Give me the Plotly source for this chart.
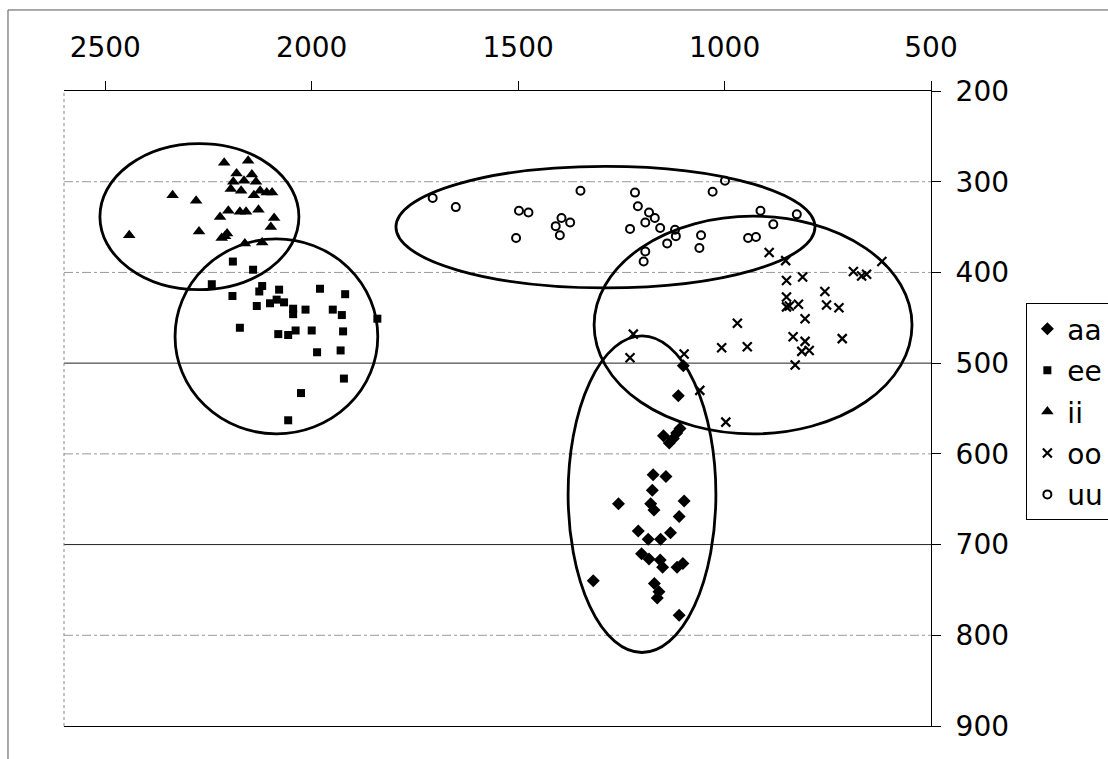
import plotly.graph_objects as go

# ---- data (F2 on x, F1 on y) ----
aa_x = [1100, 1112, 1108, 1116, 1124, 1148, 1134, 1173, 1142, 1175, 1257, 1179, 1171, 1098, 1110,
        1209, 1185, 1155, 1131, 1201, 1183, 1156, 1150, 1115, 1101, 1318, 1170, 1159, 1163, 1110]
aa_y = [503, 536, 572, 577, 583, 580, 588, 623, 625, 640, 655, 655, 662, 652, 669,
        685, 694, 694, 687, 710, 716, 717, 725, 725, 721, 740, 743, 752, 759, 778]

ee_x = [2191, 2142, 2242, 2192, 2120, 2127, 2079, 1980, 1919, 2133, 2101, 2085, 2067, 2045, 2045,
        2015, 1949, 1927, 1841, 2174, 2081, 2057, 2039, 2000, 1924, 1987, 1930, 1922, 2026, 2057]
ee_y = [388, 397, 413, 426, 415, 421, 419, 418, 424, 437, 434, 430, 433, 440, 446,
        441, 441, 447, 451, 461, 468, 469, 464, 464, 465, 488, 486, 517, 533, 563]

ii_x = [2212, 2154, 2182, 2145, 2164, 2190, 2135, 2196, 2171, 2125, 2140, 2109, 2096, 2337, 2280,
        2202, 2174, 2159, 2129, 2222, 2091, 2099, 2442, 2273, 2205, 2218, 2162, 2120, 2210]
ii_y = [279, 277, 291, 292, 299, 300, 300, 308, 310, 310, 315, 312, 312, 315, 321,
        332, 333, 333, 331, 339, 340, 350, 359, 355, 357, 362, 368, 367, 360]

oo_x = [892, 852, 619, 688, 668, 656, 850, 811, 757, 850, 850, 843, 821, 753, 723,
        805, 969, 1221, 834, 805, 1007, 945, 715, 813, 795, 1229, 1098, 829, 1060, 997]
oo_y = [378, 387, 388, 399, 404, 402, 409, 405, 421, 427, 438, 437, 435, 436, 439,
        451, 456, 468, 471, 476, 483, 482, 473, 487, 486, 494, 490, 502, 530, 565]

uu_x = [1707, 1651, 1498, 1475, 1505, 1395, 1374, 1409, 1399, 1349, 1217, 1210, 1183, 1169, 1192,
        1156, 1229, 1120, 1118, 1139, 1192, 1196, 1057, 1061, 1029, 999, 943, 924, 913, 882, 825]
uu_y = [318, 328, 332, 334, 362, 340, 345, 349, 359, 310, 312, 327, 334, 340, 345,
        351, 352, 353, 360, 368, 377, 388, 359, 373, 311, 299, 362, 361, 332, 347, 336]

series_names = ["aa", "ee", "ii", "oo", "uu"]

# ellipses around each vowel cluster (data units)
ell_x0 = [1379, 2331, 2513, 1316, 1796]
ell_x1 = [1021, 1840, 2031, 546, 781]
ell_y0 = [470, 363, 258, 338, 283]
ell_y1 = [819, 578, 419, 578, 417]

x_ticks = [2500, 2000, 1500, 1000, 500]
y_ticks = [200, 300, 400, 500, 600, 700, 800, 900]
solid_grid = [500, 700]

FONT = "DejaVu Sans"
xs = [aa_x, ee_x, ii_x, oo_x, uu_x]
ys = [aa_y, ee_y, ii_y, oo_y, uu_y]
markers = [
    dict(symbol="diamond", size=10, color="black"),
    dict(symbol="square", size=8, color="black"),
    dict(symbol="triangle-up", size=11, color="black"),
    dict(symbol="x-thin", size=9, color="black", line=dict(width=2.2, color="black")),
    dict(symbol="circle-open", size=8, color="black", line=dict(width=2, color="black")),
]

fig = go.Figure()
for i, name in enumerate(series_names):
    fig.add_trace(go.Scatter(x=xs[i], y=ys[i], mode="markers", name=name,
                             legendgroup=name, marker=markers[i]))

shapes = []
for v in y_ticks[1:-1]:
    if v in solid_grid:
        shapes.append(dict(type="line", xref="paper", yref="y", x0=0, x1=1, y0=v, y1=v,
                           line=dict(color="#222", width=1), layer="below"))
    else:
        shapes.append(dict(type="line", xref="paper", yref="y", x0=0, x1=1, y0=v, y1=v,
                           line=dict(color="#9a9a9a", width=1, dash="dashdot"), layer="below"))
for i in range(len(ell_x0)):
    shapes.append(dict(type="circle", xref="x", yref="y", x0=ell_x0[i], x1=ell_x1[i],
                       y0=ell_y0[i], y1=ell_y1[i], line=dict(color="black", width=2.8)))
# left edge of plot area
shapes.append(dict(type="line", xref="paper", yref="paper", x0=0, x1=0, y0=0, y1=1,
                   line=dict(color="#888", width=1, dash="dot")))
# chart area frame (top and left)
shapes.append(dict(type="line", xref="paper", yref="paper", x0=-0.0646, x1=1.21, y0=1.1276, y1=1.1276,
                   line=dict(color="#555", width=1)))
shapes.append(dict(type="line", xref="paper", yref="paper", x0=-0.0646, x1=-0.0646, y0=-0.06, y1=1.1276,
                   line=dict(color="#555", width=1)))

fig.update_layout(
    width=1108, height=759,
    margin=dict(l=64, r=177, t=91, b=33, autoexpand=False),
    paper_bgcolor="white", plot_bgcolor="white",
    font=dict(family=FONT, size=28, color="black"),
    shapes=shapes,
    showlegend=True,
    legend=dict(x=1.11, y=0.666, xanchor="left", yanchor="top",
                bordercolor="black", borderwidth=1, bgcolor="white",
                font=dict(family=FONT, size=28, color="black"),
                tracegroupgap=2, itemwidth=30),
    xaxis=dict(range=[2600, 500], side="top", tickvals=x_ticks, ticktext=[str(v) for v in x_ticks],
               showgrid=False, zeroline=False, showline=True, linecolor="black", linewidth=1,
               mirror=True, ticks="outside", ticklen=9, tickcolor="black",
               ticklabelstandoff=13, tickfont=dict(family=FONT, size=28)),
    yaxis=dict(range=[900, 200], side="right", tickvals=y_ticks, ticktext=[str(v) for v in y_ticks],
               showgrid=False, zeroline=False, showline=True, linecolor="black", linewidth=1,
               ticks="outside", ticklen=9, tickcolor="black",
               ticklabelstandoff=9, tickfont=dict(family=FONT, size=28)),
)

fig.write_html("out.html", config={"displayModeBar": False},
               post_script="document.body.style.margin='0';")
